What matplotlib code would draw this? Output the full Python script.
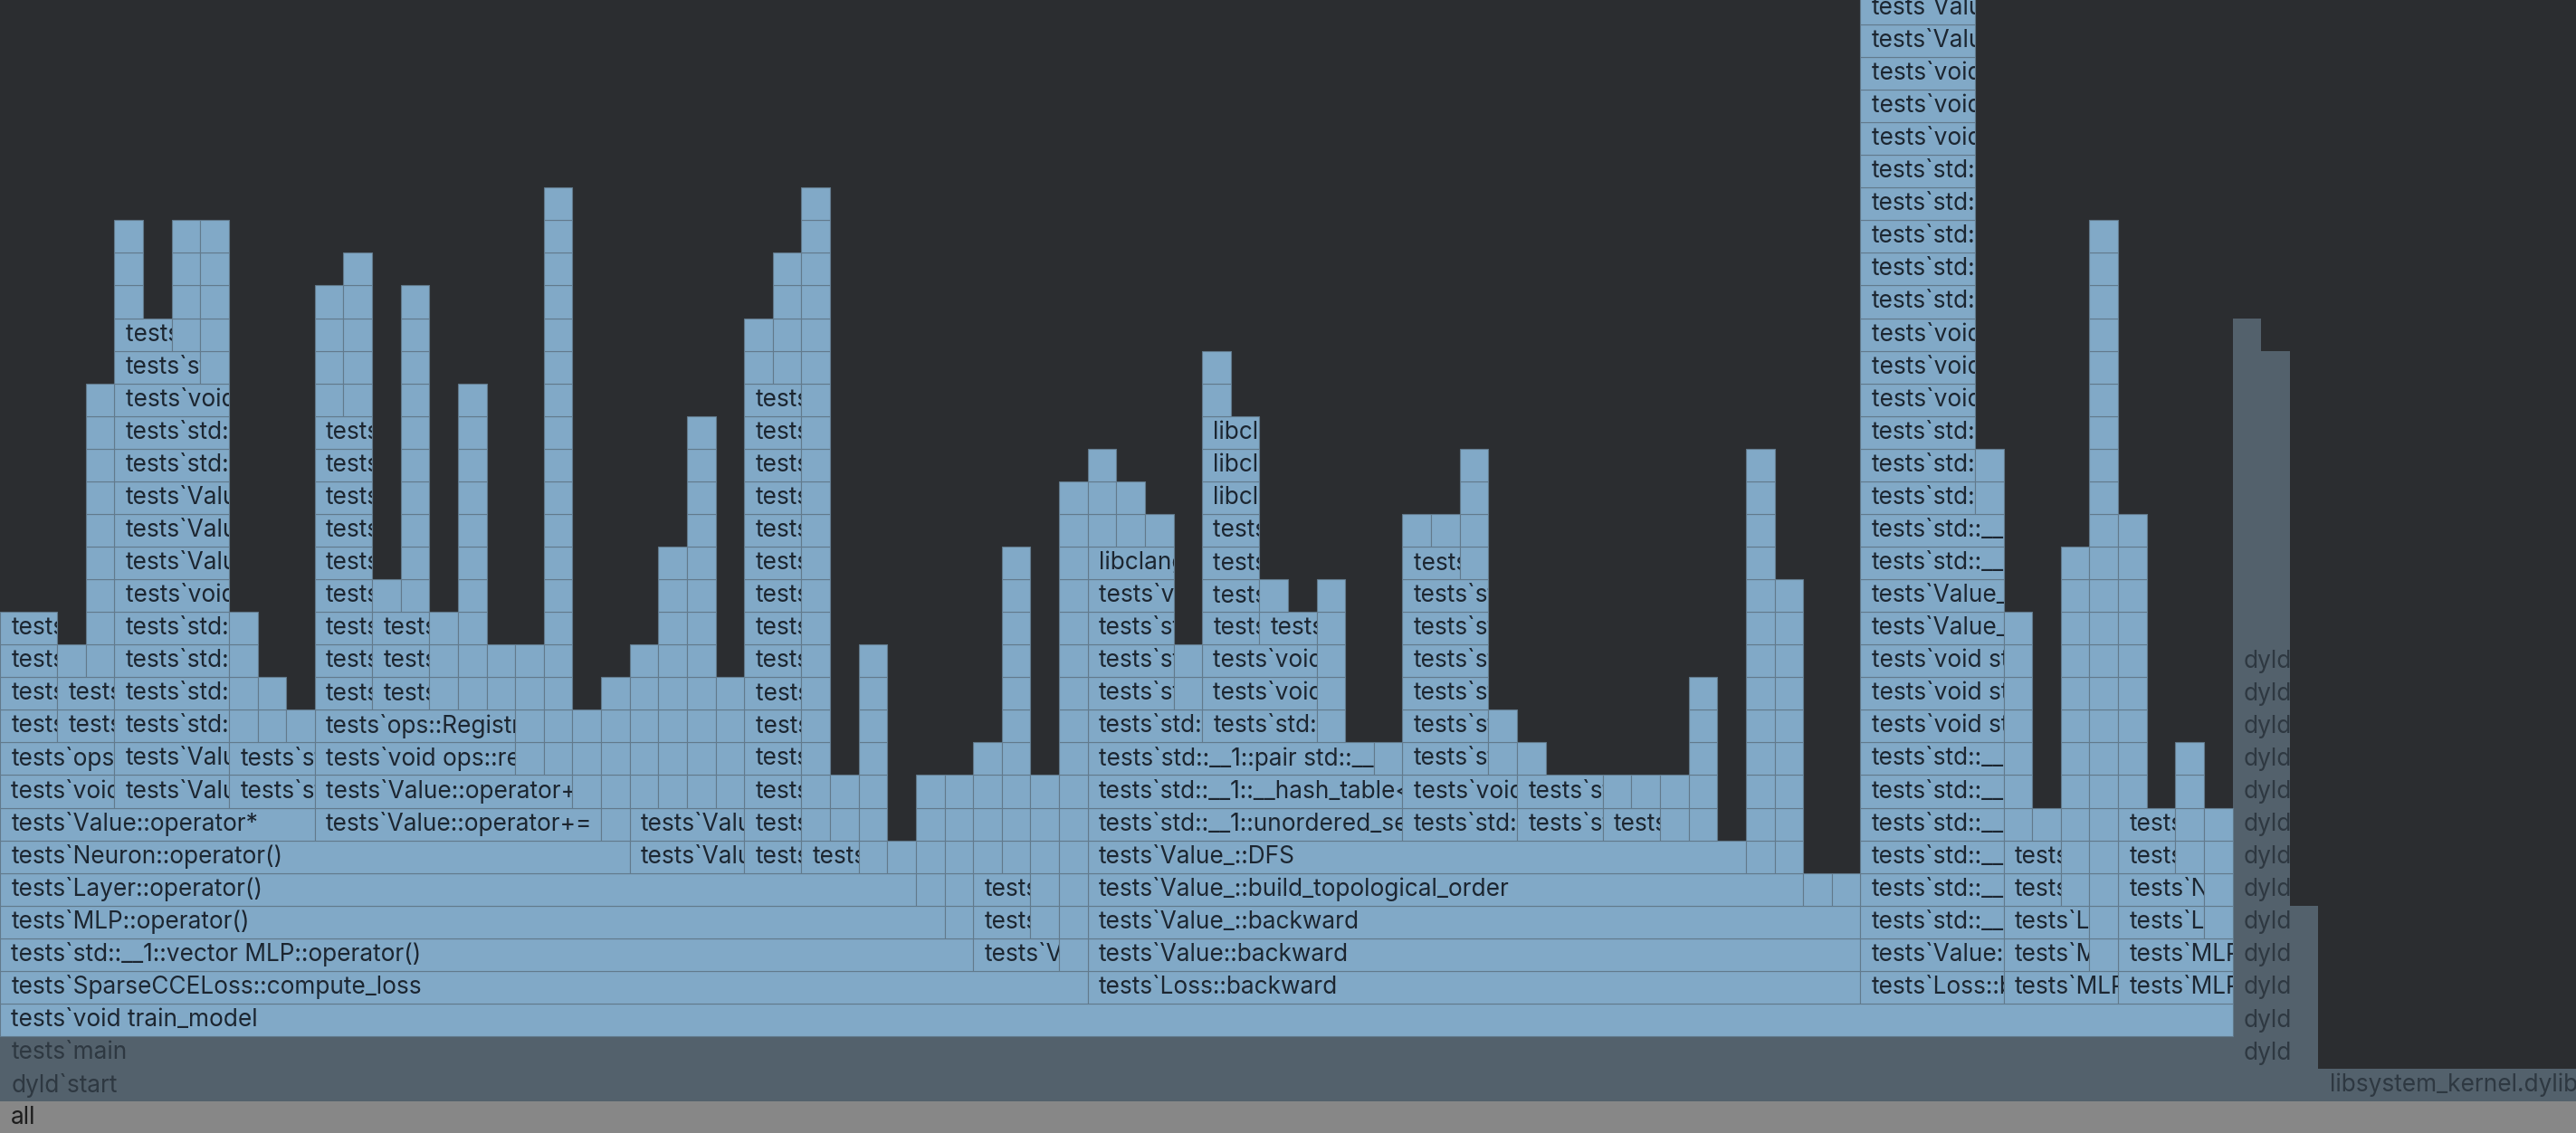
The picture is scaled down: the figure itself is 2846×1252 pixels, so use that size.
import matplotlib
matplotlib.use("Agg")
import matplotlib.pyplot as plt

# flame graph of a profiling run, 90 samples in total
total_samples = 90

# frames: (depth, first sample, samples, name)
system_frames = [
    (0, 0, 90, "all"),
    (1, 0, 81, "dyld`start"),
    (1, 81, 9, "libsystem_kernel.dylib"),
    (2, 0, 78, "tests`main"),
]
# two-sample dyld frames stacked on top of each other
dyld_depths = [2, 3, 4, 5, 6, 7, 8, 9, 10, 11, 12, 13, 14]
# single-sample dyld stacks: (sample, lowest depth, highest depth)
dyld_towers = [(78, 15, 24), (79, 15, 23), (80, 2, 6)]

forward_frames = [
    (3, 0, 78, "tests`void train_model"),
    (4, 0, 38, "tests`SparseCCELoss::compute_loss"),
    (5, 0, 34, "tests`std::__1::vector MLP::operator()"),
    (5, 34, 3, "tests`Value::log"),
    (6, 0, 33, "tests`MLP::operator()"),
    (6, 34, 2, "tests`Value::log"),
    (7, 0, 32, "tests`Layer::operator()"),
    (7, 34, 2, "tests`Value_::Value_"),
    (8, 0, 22, "tests`Neuron::operator()"),
    (8, 22, 4, "tests`Value::operator+"),
    (8, 26, 2, "tests`std::__1::make_shared"),
    (8, 28, 2, "tests`Value::Value"),
    (9, 0, 11, "tests`Value::operator*"),
    (9, 11, 10, "tests`Value::operator+="),
    (9, 22, 4, "tests`Value_::Value_"),
    (9, 26, 2, "tests`std::__1::shared_ptr"),
    (10, 0, 4, "tests`void ops::register_op"),
    (10, 4, 4, "tests`Value_::Value_"),
    (10, 8, 3, "tests`std::__1::make_shared"),
    (10, 11, 9, "tests`Value::operator+(Value const&)"),
    (10, 26, 2, "tests`std::__1::allocate"),
    (11, 0, 4, "tests`ops::Registry::get"),
    (11, 4, 4, "tests`Value_::Value_"),
    (11, 8, 3, "tests`std::__1::shared_ptr"),
    (11, 11, 7, "tests`void ops::register_backward"),
    (11, 26, 2, "tests`std::__1::allocate"),
    (12, 0, 2, "tests`std::__1::function"),
    (12, 2, 2, "tests`std::__1::function"),
    (12, 4, 4, "tests`std::__1::function"),
    (12, 11, 7, "tests`ops::Registry::get"),
    (12, 26, 2, "tests`operator new"),
    (13, 0, 2, "tests`std::__1::__function"),
    (13, 2, 2, "tests`std::__1::__function"),
    (13, 4, 4, "tests`std::__1::__function"),
    (13, 11, 2, "tests`std::__1::map"),
    (13, 13, 2, "tests`std::__1::map"),
    (13, 26, 2, "tests`operator new"),
    (14, 0, 2, "tests`std::__1::__value_func"),
    (14, 4, 4, "tests`std::__1::__value_func"),
    (14, 11, 2, "tests`std::__1::__tree"),
    (14, 13, 2, "tests`std::__1::__tree"),
    (14, 26, 2, "tests`malloc"),
    (15, 0, 2, "tests`std::__1::__value_func"),
    (15, 4, 4, "tests`std::__1::__value_func"),
    (15, 11, 2, "tests`std::__1::__tree"),
    (15, 13, 2, "tests`std::__1::__tree"),
    (15, 26, 2, "tests`malloc"),
    (16, 4, 4, "tests`void std::__1::__invoke"),
    (16, 11, 2, "tests`std::__1::__tree"),
    (16, 26, 2, "tests`malloc"),
    (17, 4, 4, "tests`Value_::backward_fn"),
    (17, 11, 2, "tests`std::__1::__tree"),
    (17, 26, 2, "tests`malloc"),
    (18, 4, 4, "tests`Value_::backward_fn"),
    (18, 11, 2, "tests`std::__1::__tree"),
    (18, 26, 2, "tests`malloc"),
    (19, 4, 4, "tests`Value_::backward_fn"),
    (19, 11, 2, "tests`std::__1::__tree"),
    (19, 26, 2, "tests`malloc"),
    (20, 4, 4, "tests`std::__1::vector"),
    (20, 11, 2, "tests`std::__1::__tree"),
    (20, 26, 2, "tests`malloc"),
    (21, 4, 4, "tests`std::__1::vector"),
    (21, 11, 2, "tests`std::__1::__tree"),
    (21, 26, 2, "tests`malloc"),
    (22, 4, 4, "tests`void std::__1::vector"),
    (22, 26, 2, "tests`malloc"),
    (23, 4, 3, "tests`std::__1::allocator"),
    (24, 4, 2, "tests`operator new"),
]

backward_frames = [
    (4, 38, 27, "tests`Loss::backward"),
    (5, 38, 27, "tests`Value::backward"),
    (6, 38, 27, "tests`Value_::backward"),
    (7, 38, 25, "tests`Value_::build_topological_order"),
    (8, 38, 23, "tests`Value_::DFS"),
    (9, 38, 11, "tests`std::__1::unordered_set<Value_*>::insert"),
    (9, 49, 4, "tests`std::__1::vector"),
    (9, 53, 3, "tests`std::__1::vector"),
    (9, 56, 2, "tests`std::__1::vector"),
    (10, 38, 11, "tests`std::__1::__hash_table<Value_*>::__emplace_unique"),
    (10, 49, 4, "tests`void std::__1::vector"),
    (10, 53, 3, "tests`std::__1::allocator"),
    (11, 38, 10, "tests`std::__1::pair std::__1::__hash_table"),
    (11, 49, 3, "tests`std::__1::allocator"),
    (12, 38, 4, "tests`std::__1::__hash_table"),
    (12, 42, 4, "tests`std::__1::__hash_table"),
    (12, 49, 3, "tests`std::__1::allocator"),
    (13, 38, 3, "tests`std::__1::__hash_table"),
    (13, 42, 4, "tests`void std::__1::__hash_table"),
    (13, 49, 3, "tests`std::__1::allocator"),
    (14, 38, 3, "tests`std::__1::__hash_table"),
    (14, 42, 4, "tests`void std::__1::__hash_table"),
    (14, 49, 3, "tests`std::__1::allocator"),
    (15, 38, 3, "tests`std::__1::__hash_table"),
    (15, 42, 2, "tests`std::__1::__rehash"),
    (15, 44, 2, "tests`std::__1::__rehash"),
    (15, 49, 3, "tests`std::__1::allocator"),
    (16, 38, 3, "tests`void std::__1::__rehash"),
    (16, 42, 2, "tests`operator new"),
    (16, 49, 3, "tests`std::__1::allocator"),
    (17, 38, 3, "libclang_rt.asan_osx_dynamic.dylib"),
    (17, 42, 2, "tests`operator new"),
    (17, 49, 2, "tests`operator new"),
    (18, 42, 2, "tests`operator new"),
    (19, 42, 2, "libclang_rt.asan_osx_dynamic.dylib"),
    (20, 42, 2, "libclang_rt.asan_osx_dynamic.dylib"),
    (21, 42, 2, "libclang_rt.asan_osx_dynamic.dylib"),
]

tail_frames = [
    (4, 65, 5, "tests`Loss::backward"),
    (4, 70, 4, "tests`MLP::zero_grad"),
    (4, 74, 4, "tests`MLP::update"),
    (5, 65, 5, "tests`Value::backward"),
    (5, 70, 3, "tests`MLP::parameters"),
    (5, 74, 4, "tests`MLP::parameters"),
    (6, 65, 5, "tests`std::__1::function"),
    (6, 70, 3, "tests`Layer::parameters"),
    (6, 74, 3, "tests`Layer::parameters"),
    (7, 65, 5, "tests`std::__1::__function"),
    (7, 70, 2, "tests`Neuron::parameters"),
    (7, 74, 3, "tests`Neuron::parameters"),
    (8, 65, 5, "tests`std::__1::__value_func"),
    (8, 70, 2, "tests`std::__1::vector"),
    (8, 74, 2, "tests`std::__1::vector"),
    (9, 65, 5, "tests`std::__1::__function"),
    (9, 74, 2, "tests`std::__1::vector"),
    (10, 65, 5, "tests`std::__1::__invoke"),
    (11, 65, 5, "tests`std::__1::__invoke"),
    (12, 65, 5, "tests`void std::__1::__invoke"),
    (13, 65, 5, "tests`void std::__1::__invoke"),
    (14, 65, 5, "tests`void std::__1::__invoke"),
    (15, 65, 5, "tests`Value_::backward_fn"),
    (16, 65, 5, "tests`Value_::backward_fn"),
    (17, 65, 5, "tests`std::__1::function"),
    (18, 65, 5, "tests`std::__1::function"),
    (19, 65, 4, "tests`std::__1::__function"),
    (20, 65, 4, "tests`std::__1::__function"),
    (21, 65, 4, "tests`std::__1::__function"),
    (22, 65, 4, "tests`void std::__1::__invoke"),
    (23, 65, 4, "tests`void std::__1::__invoke"),
    (24, 65, 4, "tests`void std::__1::__invoke"),
    (25, 65, 4, "tests`std::__1::function"),
    (26, 65, 4, "tests`std::__1::function"),
    (27, 65, 4, "tests`std::__1::function"),
    (28, 65, 4, "tests`std::__1::function"),
    (29, 65, 4, "tests`std::__1::function"),
    (30, 65, 4, "tests`void std::__1::__invoke"),
    (31, 65, 4, "tests`void std::__1::__invoke"),
    (32, 65, 4, "tests`void std::__1::__invoke"),
    (33, 65, 4, "tests`Value_::backward_fn"),
    (34, 65, 4, "tests`Value_::backward_fn"),
]

# single-sample stacks too narrow for a label: (sample, lowest depth, highest depth)
towers = [
    (2, 14, 14), (3, 14, 22), (4, 25, 27), (6, 24, 27), (7, 23, 27),
    (8, 12, 15), (9, 12, 13), (10, 12, 12), (11, 22, 25), (12, 22, 26),
    (13, 16, 16), (14, 16, 25), (15, 13, 15), (16, 13, 22), (17, 13, 14),
    (18, 11, 14), (19, 11, 28), (20, 10, 12), (21, 9, 13), (22, 10, 14),
    (23, 10, 17), (24, 10, 21), (25, 10, 13), (26, 23, 24), (27, 23, 26),
    (28, 9, 28), (29, 9, 10), (30, 8, 14), (31, 8, 8), (32, 7, 10),
    (33, 6, 10), (34, 8, 11), (35, 8, 17), (36, 6, 10), (37, 5, 19),
    (38, 18, 20), (39, 18, 19), (40, 18, 18), (41, 13, 14), (42, 22, 23),
    (44, 16, 16), (46, 12, 16), (48, 11, 11), (49, 18, 18), (50, 18, 18),
    (51, 17, 20), (52, 11, 12), (53, 11, 11), (56, 10, 10), (57, 10, 10),
    (58, 9, 10), (59, 9, 13), (61, 8, 20), (62, 8, 16), (63, 7, 7),
    (64, 7, 7), (69, 19, 20), (70, 9, 15), (71, 9, 9), (72, 7, 17),
    (73, 5, 27), (74, 10, 18), (76, 8, 11), (77, 6, 9),
]

BG = "#2b2d30"
BLUE = "#81a9c7"
EDGE = "#627a8c"
GRAY = "#53616c"
ALL_GRAY = "#878787"
TEXT_BLUE = "#1c2631"
TEXT_GRAY = "#2e3841"
TEXT_ALL = "#1c1c1c"

plt.rcParams['font.family'] = ['Inter', 'DejaVu Sans']

fig = plt.figure(figsize=(28.46, 12.52), dpi=100, facecolor=BG)
ax = fig.add_axes([0, 0, 1, 1])
ax.set_facecolor(BG)
ax.set_xlim(0, total_samples)
ax.set_ylim(0.035, 34.745)
ax.axis("off")

pad = 0.39  # label indent, in samples


def draw(frames, face, edge, lw, text_color):
    depths = [f[0] for f in frames]
    starts = [f[1] for f in frames]
    widths = [f[2] for f in frames]
    bars = ax.bar(starts, [1] * len(frames), width=widths, bottom=depths,
                  align="edge", color=face, edgecolor=edge, linewidth=lw)
    for patch, (d, s, w, name) in zip(bars.patches, frames):
        if w >= 2 and name:
            t = ax.text(s + pad, d + 0.5, name, ha="left", va="center",
                        fontsize=18.9, color=text_color, clip_on=True)
            t.set_clip_path(patch)  # rectangle -> clip box, cuts the label at the frame edge


def expand(tower_list):
    out = []
    for s, lo, hi in tower_list:
        for d in range(lo, hi + 1):
            out.append((d, s, 1, ""))
    return out


draw(system_frames[:1], ALL_GRAY, ALL_GRAY, 0, TEXT_ALL)
draw(system_frames[1:], GRAY, GRAY, 0, TEXT_GRAY)
draw([(d, 78, 2, "dyld`dyld4::start") for d in dyld_depths], GRAY, GRAY, 0, TEXT_GRAY)
draw(expand(dyld_towers), GRAY, GRAY, 0, TEXT_GRAY)

draw(forward_frames, BLUE, EDGE, 0.8, TEXT_BLUE)
draw(backward_frames, BLUE, EDGE, 0.8, TEXT_BLUE)
draw(tail_frames, BLUE, EDGE, 0.8, TEXT_BLUE)
draw(expand(towers), BLUE, EDGE, 0.8, TEXT_BLUE)

fig.savefig("out.png", dpi=100, facecolor=BG)
